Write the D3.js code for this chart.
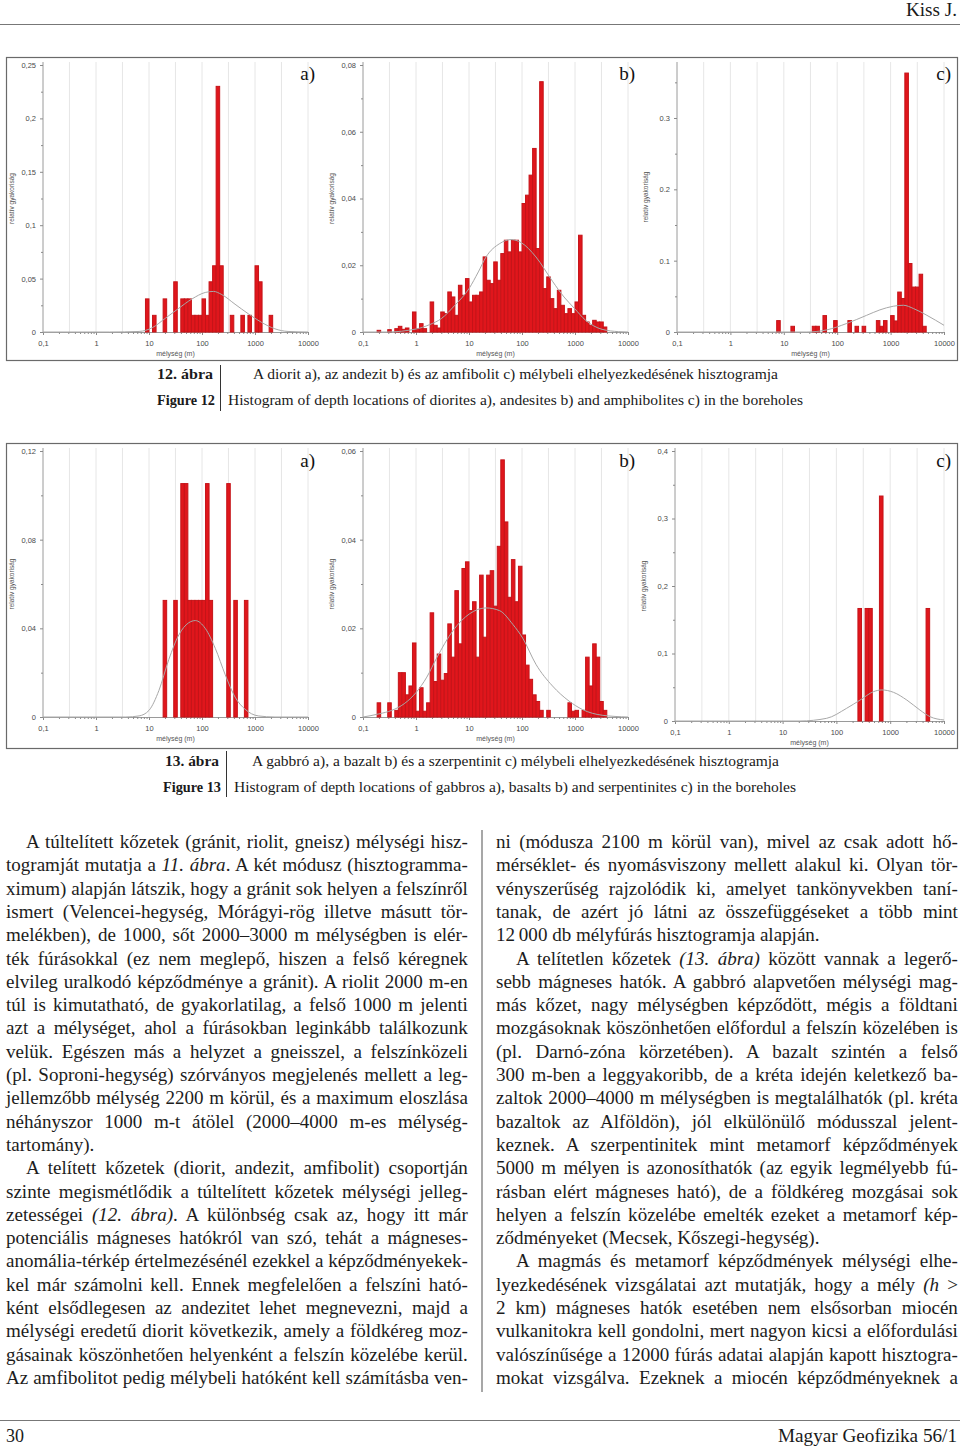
<!DOCTYPE html>
<html>
<head>
<meta charset="utf-8">
<script src="https://cdnjs.cloudflare.com/ajax/libs/d3/7.8.5/d3.min.js"></script>
<style>
  body { margin: 0; background: #fff; }
  svg { display: block; }
</style>
</head>
<body>
<svg id="page" width="960" height="1449"></svg>
<script>
// ---- tengelyek ----
const xTickValues = [0.1, 1, 10, 100, 1000, 10000];
const xTickLabels = ['0,1', '1', '10', '100', '1000', '10000'];
const gridDepths = [0.316, 1, 3.16, 10, 31.6, 100, 316, 1000, 3162, 10000];

// bin k = log10(mélység) from -1 + k/15 to -1 + (k+1)/15
const BINS_PER_DECADE = 15;

// ---- 12. ábra a) diorit ----
const dioriteYTicks = [0, 0.05, 0.1, 0.15, 0.2, 0.25];
const dioriteYLabels = ['0', '0,05', '0,1', '0,15', '0,2', '0,25'];
const dioriteBars = [
  [29, 0.031], [31, 0.0156], [34, 0.031], [37, 0.047], [39, 0.031], [40, 0.031], [41, 0.031],
  [42, 0.0156], [43, 0.0156], [44, 0.0156], [45, 0.031], [46, 0.0156], [47, 0.047], [48, 0.062],
  [49, 0.23], [50, 0.062], [53, 0.0156], [56, 0.0156], [58, 0.0156], [60, 0.062], [61, 0.047], [64, 0.0156]
];
const dioriteCurve = [
  [0.1, 0], [1.8, 0], [6.5, 0.0005], [11.5, 0.004], [20.5, 0.013], [36, 0.022], [65, 0.031],
  [115, 0.037], [165, 0.038], [237, 0.035], [420, 0.026], [750, 0.017], [1330, 0.009],
  [2370, 0.003], [4200, 0.0005], [10000, 0]
];

// ---- 12. ábra b) andezit ----
const andesiteYTicks = [0, 0.02, 0.04, 0.06, 0.08];
const andesiteYLabels = ['0', '0,02', '0,04', '0,06', '0,08'];
const andesiteBars = [
  [4, 0.0005], [7, 0.0007], [9, 0.001], [10, 0.0017], [11, 0.0008], [12, 0.0012], [14, 0.006],
  [15, 0.001], [16, 0.0025], [17, 0.001], [19, 0.009], [20, 0.002], [21, 0.0012], [22, 0.006],
  [23, 0.0055], [24, 0.012], [25, 0.0105], [26, 0.005], [27, 0.014], [28, 0.011], [29, 0.016],
  [30, 0.009], [31, 0.011], [32, 0.011], [33, 0.012], [34, 0.0225], [35, 0.0155], [36, 0.0145],
  [37, 0.021], [38, 0.0155], [39, 0.0235], [40, 0.0275], [41, 0.024], [42, 0.0275], [43, 0.0275],
  [44, 0.024], [45, 0.0385], [46, 0.041], [47, 0.047], [48, 0.055], [49, 0.025], [50, 0.075],
  [51, 0.013], [52, 0.0165], [53, 0.010], [54, 0.007], [55, 0.0125], [56, 0.008], [57, 0.0055],
  [58, 0.007], [59, 0.0055], [60, 0.009], [61, 0.029], [62, 0.005], [63, 0.003], [64, 0.002],
  [65, 0.0035], [66, 0.003], [67, 0.003], [68, 0.0015]
];
const andesiteCurve = [
  [0.1, 0], [0.28, 0], [1.0, 0.0009], [1.8, 0.0022], [3.0, 0.004], [5.4, 0.008], [10, 0.013],
  [15, 0.018], [21, 0.0225], [38, 0.0265], [62, 0.0277], [96, 0.0268], [183, 0.0225],
  [376, 0.0152], [620, 0.0105], [960, 0.0072], [1590, 0.0035], [3240, 0.0008], [6680, 0.0001], [10000, 0]
];

// ---- 12. ábra c) amfibolit ----
const amphiboliteYTicks = [0, 0.1, 0.2, 0.3];
const amphiboliteYLabels = ['0', '0.1', '0.2', '0.3'];
const amphiboliteBars = [
  [28, 0.016], [32, 0.008], [38, 0.008], [39, 0.008], [41, 0.023], [44, 0.016], [48, 0.016],
  [50, 0.008], [52, 0.008], [56, 0.016], [57, 0.008], [58, 0.016], [60, 0.023], [61, 0.0155],
  [62, 0.056], [63, 0.047], [64, 0.363], [65, 0.096], [66, 0.063], [67, 0.063], [68, 0.081], [69, 0.008]
];
const amphiboliteCurve = [
  [0.1, 0], [27, 0], [64, 0.003], [151, 0.012], [356, 0.0234], [630, 0.031], [1120, 0.0361],
  [1740, 0.0375], [2700, 0.0328], [4780, 0.0234], [10000, 0.0094]
];

// ---- 13. ábra a) gabbró ----
const gabbroYTicks = [0, 0.04, 0.08, 0.12];
const gabbroYLabels = ['0', '0,04', '0,08', '0,12'];
const gabbroBars = [
  [34, 0.0526], [37, 0.0526], [39, 0.1053], [40, 0.1053], [41, 0.0526], [42, 0.0526], [43, 0.0526],
  [44, 0.0526], [45, 0.0526], [46, 0.1053], [47, 0.0526], [52, 0.1053], [54, 0.0526], [57, 0.0526]
];
const gabbroCurve = [
  [0.1, 0], [3.65, 0], [6.5, 0.0005], [10, 0.003], [15.4, 0.012], [23.7, 0.026], [36.5, 0.037],
  [56, 0.0425], [75, 0.0435], [115, 0.040], [178, 0.031], [275, 0.019], [420, 0.009],
  [650, 0.0035], [1150, 0.0005], [2370, 0], [10000, 0]
];

// ---- 13. ábra b) bazalt ----
const basaltYTicks = [0, 0.02, 0.04, 0.06];
const basaltYLabels = ['0', '0,02', '0,04', '0,06'];
const basaltBars = [
  [4, 0.0032], [7, 0.0032], [9, 0.0015], [10, 0.010], [11, 0.010], [12, 0.005], [13, 0.007],
  [14, 0.0167], [15, 0.0013], [16, 0.0066], [17, 0.0013], [18, 0.0032], [19, 0.0235], [20, 0.008],
  [21, 0.0142], [22, 0.0083], [23, 0.0098], [24, 0.021], [25, 0.0135], [26, 0.0285], [27, 0.0165],
  [28, 0.0335], [29, 0.035], [30, 0.024], [31, 0.026], [32, 0.0135], [33, 0.032], [34, 0.018],
  [35, 0.032], [36, 0.033], [37, 0.025], [38, 0.0385], [39, 0.058], [40, 0.044], [41, 0.027],
  [42, 0.0355], [43, 0.026], [44, 0.034], [45, 0.0185], [46, 0.0117], [47, 0.0085], [48, 0.005],
  [49, 0.0035], [50, 0.0015], [52, 0.0015], [58, 0.0032], [59, 0.0013], [60, 0.0015], [62, 0.0015],
  [63, 0.0135], [64, 0.007], [65, 0.0165], [66, 0.0135], [67, 0.0035], [68, 0.0015]
];
const basaltCurve = [
  [0.1, 0], [0.2, 0.0007], [0.35, 0.0015], [0.6, 0.003], [1.0, 0.0055], [1.6, 0.009],
  [2.45, 0.0133], [5.0, 0.0195], [10.3, 0.0233], [21, 0.0246], [37.6, 0.024], [67, 0.0209],
  [103, 0.0178], [183, 0.0119], [376, 0.007], [770, 0.0036], [1375, 0.0017], [3240, 0.0004], [10000, 0]
];

// ---- 13. ábra c) szerpentinit ----
const serpentiniteYTicks = [0, 0.1, 0.2, 0.3, 0.4];
const serpentiniteYLabels = ['0', '0,1', '0,2', '0,3', '0,4'];
const serpentiniteBars = [[51, 0.1667], [53, 0.1667], [54, 0.1667], [57, 0.3333], [70, 0.1667]];
const serpentiniteCurve = [
  [0.1, 0], [21, 0], [66, 0.004], [155, 0.0188], [275, 0.031], [490, 0.0435], [700, 0.046],
  [1150, 0.0425], [2040, 0.031], [3560, 0.0163], [5500, 0.0064], [10000, 0.0015]
];

// ---- szöveg ----
const captions12 = [
  '12. ábra', 'A diorit a), az andezit b) és az amfibolit c) mélybeli elhelyezkedésének hisztogramja',
  'Figure 12', 'Histogram of depth locations of diorites a), andesites b) and amphibolites c) in the boreholes'
];
const captions13 = [
  '13. ábra', 'A gabbró a), a bazalt b) és a szerpentinit c) mélybeli elhelyezkedésének hisztogramja',
  'Figure 13', 'Histogram of depth locations of gabbros a), basalts b) and serpentinites c) in the boreholes'
];

// 'i' = bekezdés eleje (behúzás), 'e' = bekezdés vége (nincs sorkizárás), _..._ = dőlt
const col1Lines = [
  ['A túltelített kőzetek (gránit, riolit, gneisz) mélységi hisz-', 'i'],
  ['togramját mutatja a _11. ábra_. A két módusz (hisztogramma-', ''],
  ['ximum) alapján látszik, hogy a gránit sok helyen a felszínről', ''],
  ['ismert (Velencei-hegység, Mórágyi-rög illetve másutt tör-', ''],
  ['melékben), de 1000, sőt 2000–3000 m mélységben is elér-', ''],
  ['ték fúrásokkal (ez nem meglepő, hiszen a felső kéregnek', ''],
  ['elvileg uralkodó képződménye a gránit). A riolit 2000 m-en', ''],
  ['túl is kimutatható, de gyakorlatilag, a felső 1000 m jelenti', ''],
  ['azt a mélységet, ahol a fúrásokban leginkább találkozunk', ''],
  ['velük. Egészen más a helyzet a gneisszel, a felszínközeli', ''],
  ['(pl. Soproni-hegység) szórványos megjelenés mellett a leg-', ''],
  ['jellemzőbb mélység 2200 m körül, és a maximum eloszlása', ''],
  ['néhányszor 1000 m-t átölel (2000–4000 m-es mélység-', ''],
  ['tartomány).', 'e'],
  ['A telített kőzetek (diorit, andezit, amfibolit) csoportján', 'i'],
  ['szinte megismétlődik a túltelített kőzetek mélységi jelleg-', ''],
  ['zetességei _(12. ábra)_. A különbség csak az, hogy itt már', ''],
  ['potenciális mágneses hatókról van szó, tehát a mágneses-', ''],
  ['anomália-térkép értelmezésénél ezekkel a képződményekek-', ''],
  ['kel már számolni kell. Ennek megfelelően a felszíni ható-', ''],
  ['ként elsődlegesen az andezitet lehet megnevezni, majd a', ''],
  ['mélységi eredetű diorit következik, amely a földkéreg moz-', ''],
  ['gásainak köszönhetően helyenként a felszín közelébe kerül.', ''],
  ['Az amfibolitot pedig mélybeli hatóként kell számításba ven-', '']
];
const col2Lines = [
  ['ni (módusza 2100 m körül van), mivel az csak adott hő-', ''],
  ['mérséklet- és nyomásviszony mellett alakul ki. Olyan tör-', ''],
  ['vényszerűség rajzolódik ki, amelyet tankönyvekben taní-', ''],
  ['tanak, de azért jó látni az összefüggéseket a több mint', ''],
  ['12\u2009000 db mélyfúrás hisztogramja alapján.', 'e'],
  ['A telítetlen kőzetek _(13. ábra)_ között vannak a legerő-', 'i'],
  ['sebb mágneses hatók. A gabbró alapvetően mélységi mag-', ''],
  ['más kőzet, nagy mélységben képződött, mégis a földtani', ''],
  ['mozgásoknak köszönhetően előfordul a felszín közelében is', ''],
  ['(pl. Darnó-zóna körzetében). A bazalt szintén a felső', ''],
  ['300 m-ben a leggyakoribb, de a kréta idején keletkező ba-', ''],
  ['zaltok 2000–4000 m mélységben is megtalálhatók (pl. kréta', ''],
  ['bazaltok az Alföldön), jól elkülönülő módusszal jelent-', ''],
  ['keznek. A szerpentinitek mint metamorf képződmények', ''],
  ['5000 m mélyen is azonosíthatók (az egyik legmélyebb fú-', ''],
  ['rásban elért mágneses ható), de a földkéreg mozgásai sok', ''],
  ['helyen a felszín közelébe emelték ezeket a metamorf kép-', ''],
  ['ződményeket (Mecsek, Kőszegi-hegység).', 'e'],
  ['A magmás és metamorf képződmények mélységi elhe-', 'i'],
  ['lyezkedésének vizsgálatai azt mutatják, hogy a mély _(h_ >', ''],
  ['2 km) mágneses hatók esetében nem elsősorban miocén', ''],
  ['vulkanitokra kell gondolni, mert nagyon kicsi a előfordulási', ''],
  ['valószínűsége a 12000 fúrás adatai alapján kapott hisztogra-', ''],
  ['mokat vizsgálva. Ezeknek a miocén képződményeknek a', '']
];

const SERIF = '"Liberation Serif", "Times New Roman", serif';
const SANS = '"Liberation Sans", Arial, sans-serif';
const svg = d3.select('#page');

// ---- hisztogram panelek ----
const binEdge = k => Math.pow(10, -1 + k / BINS_PER_DECADE);

const panels = [
  { x0: 43, x1: 308, y0: 65, y1: 332, top: 62, yMax: 0.25, ticks: dioriteYTicks, labels: dioriteYLabels, minor: 0.025, bars: dioriteBars, curve: dioriteCurve, tag: 'a)', frame: 57 },
  { x0: 363, x1: 628, y0: 65, y1: 332, top: 62, yMax: 0.08, ticks: andesiteYTicks, labels: andesiteYLabels, minor: 0.01, bars: andesiteBars, curve: andesiteCurve, tag: 'b)', frame: 57 },
  { x0: 677, x1: 944, y0: 62, y1: 332, top: 62, yMax: 0.3785, ticks: amphiboliteYTicks, labels: amphiboliteYLabels, minor: 0.05, bars: amphiboliteBars, curve: amphiboliteCurve, tag: 'c)', frame: 57 },
  { x0: 43, x1: 308, y0: 451, y1: 717, top: 448, yMax: 0.12, ticks: gabbroYTicks, labels: gabbroYLabels, minor: 0.02, bars: gabbroBars, curve: gabbroCurve, tag: 'a)', frame: 444 },
  { x0: 363, x1: 628, y0: 451, y1: 717, top: 448, yMax: 0.06, ticks: basaltYTicks, labels: basaltYLabels, minor: 0.01, bars: basaltBars, curve: basaltCurve, tag: 'b)', frame: 444 },
  { x0: 675, x1: 944, y0: 451, y1: 721, top: 448, yMax: 0.4, ticks: serpentiniteYTicks, labels: serpentiniteYLabels, minor: 0.05, bars: serpentiniteBars, curve: serpentiniteCurve, tag: 'c)', frame: 444 }
];

// keretek
svg.append('rect').attr('x', 6.5).attr('y', 57.5).attr('width', 951).attr('height', 303)
  .attr('fill', 'none').attr('stroke', '#6a6a6a').attr('stroke-width', 1.2);
svg.append('rect').attr('x', 6.5).attr('y', 443.5).attr('width', 951).attr('height', 305)
  .attr('fill', 'none').attr('stroke', '#6a6a6a').attr('stroke-width', 1.2);

for (const p of panels) {
  const g = svg.append('g').attr('font-family', SANS);
  const x = d3.scaleLog().domain([0.1, 10000]).range([p.x0, p.x1]);
  const y = d3.scaleLinear().domain([0, p.yMax]).range([p.y1, p.y0]);

  g.append('g').selectAll('line').data(gridDepths).join('line')
    .attr('x1', d => x(d)).attr('x2', d => x(d))
    .attr('y1', p.top).attr('y2', p.y1)
    .attr('stroke', '#e0e0e0').attr('stroke-width', 0.8);

  // y tengely
  const yAxis = g.append('g').attr('transform', `translate(${p.x0},0)`)
    .call(d3.axisLeft(y).tickValues(p.ticks).tickSize(3).tickPadding(4)
      .tickFormat((d, i) => p.labels[i]));
  g.append('g').attr('transform', `translate(${p.x0},0)`)
    .call(d3.axisLeft(y).tickValues(d3.range(p.minor, p.yMax, p.minor * 2)).tickSize(2).tickFormat(''))
    .call(a => a.select('.domain').remove());
  yAxis.select('.domain').attr('d', `M0,${p.top}V${p.y1}`);

  // x tengely
  g.append('g').attr('transform', `translate(0,${p.y1})`)
    .call(d3.axisBottom(x).tickValues(xTickValues).tickSize(3).tickPadding(6)
      .tickFormat((d, i) => xTickLabels[i]));
  g.append('g').attr('transform', `translate(0,${p.y1})`)
    .call(d3.axisBottom(x).tickValues(x.ticks().filter(d => !xTickValues.includes(d))).tickSize(2).tickFormat(''))
    .call(a => a.select('.domain').remove());

  g.selectAll('.domain').attr('stroke', '#9a9a9a');
  g.selectAll('.tick line').attr('stroke', '#8a8a8a');
  g.selectAll('.tick text').attr('fill', '#4a4a4a').attr('font-size', 7.5).attr('font-family', SANS);

  // oszlopok
  g.append('g').selectAll('rect').data(p.bars).join('rect')
    .attr('x', d => x(binEdge(d[0])))
    .attr('width', d => x(binEdge(d[0] + 1)) - x(binEdge(d[0])))
    .attr('y', d => y(d[1]))
    .attr('height', d => y(0) - y(d[1]))
    .attr('fill', '#e0161c')
    .attr('stroke', '#c51419')
    .attr('stroke-width', 1);

  // illesztett görbe
  g.append('path').datum(p.curve)
    .attr('fill', 'none').attr('stroke', '#a8a8a8').attr('stroke-width', 1)
    .attr('d', d3.line().x(d => x(d[0])).y(d => y(d[1])).curve(d3.curveMonotoneX));

  g.append('text')
    .attr('transform', `translate(${p.x0 - 29},${(p.y0 + p.y1) / 2}) rotate(-90)`)
    .attr('text-anchor', 'middle').attr('font-size', 6.5).attr('fill', '#555')
    .text('relatív gyakoriság');
  g.append('text')
    .attr('x', (p.x0 + p.x1) / 2).attr('y', p.y1 + 24)
    .attr('text-anchor', 'middle').attr('font-size', 7).attr('fill', '#555')
    .text('mélység (m)');
  g.append('text')
    .attr('x', p.x1 + 7).attr('y', p.frame + 23)
    .attr('text-anchor', 'end').attr('font-family', SERIF).attr('font-size', 19).attr('fill', '#111')
    .text(p.tag);
}

// ---- ábraaláírások ----
function fitted(str, x, y, w, size, bold) {
  return svg.append('text').attr('x', x).attr('y', y)
    .attr('font-family', SERIF).attr('font-size', size).attr('fill', '#1a1a1a')
    .attr('font-weight', bold ? 'bold' : null)
    .attr('textLength', w).attr('lengthAdjust', 'spacingAndGlyphs')
    .text(str);
}
function caption(texts, pos) {
  fitted(texts[0], pos[0][0], pos[0][1], pos[0][2], 15, true);
  fitted(texts[1], pos[1][0], pos[1][1], pos[1][2], 15, false);
  fitted(texts[2], pos[2][0], pos[2][1], pos[2][2], 15, true);
  fitted(texts[3], pos[3][0], pos[3][1], pos[3][2], 15, false);
  svg.append('line').attr('x1', pos[4][0]).attr('x2', pos[4][0]).attr('y1', pos[4][1]).attr('y2', pos[4][2])
    .attr('stroke', '#333').attr('stroke-width', 1);
}
caption(captions12, [[157, 379, 56], [253, 379, 525], [157, 405, 58], [228, 405, 575], [220.5, 365, 411]]);
caption(captions13, [[165, 766, 54], [252, 766, 527], [163, 792, 58], [234, 792, 562], [226.5, 751, 797]]);

// ---- élőfej, élőláb ----
fitted('Kiss J.', 906, 16, 51, 18, false);
svg.append('line').attr('x1', 0).attr('x2', 960).attr('y1', 24.5).attr('y2', 24.5).attr('stroke', '#777').attr('stroke-width', 1.2);
svg.append('line').attr('x1', 0).attr('x2', 960).attr('y1', 1420.5).attr('y2', 1420.5).attr('stroke', '#777').attr('stroke-width', 1.2);
fitted('30', 6, 1442, 18, 19, false);
fitted('Magyar Geofizika 56/1', 778, 1442, 179, 19, false);
svg.append('line').attr('x1', 482).attr('x2', 482).attr('y1', 830).attr('y2', 1392)
  .attr('stroke', '#8a8a8a').attr('stroke-width', 1.5);

// ---- kéthasábos szöveg, sorkizárással ----
const body = svg.append('g').attr('font-family', SERIF).attr('font-size', 19.5).attr('fill', '#1c1c1c');
const rows = [];
[[col1Lines, 6], [col2Lines, 496]].forEach(([lines, cx]) => {
  lines.forEach(([str, flag], n) => {
    const indent = flag.includes('i') ? 20 : 0;
    const t = body.append('text');
    str.split('_').forEach((seg, i) => {
      if (seg) t.append('tspan').attr('font-style', i % 2 ? 'italic' : null).text(seg);
    });
    rows.push({
      t, x: cx + indent, y: 848 + n * 23.3, w: 462 - indent,
      justify: !flag.includes('e'),
      spaces: str.split(' ').length - 1,
      nat: t.node().getComputedTextLength()
    });
  });
});
const sx = Math.max(0.8, Math.min(1, d3.min(rows.filter(d => d.justify), d => d.w / d.nat)));
rows.forEach(d => {
  d.t.attr('transform', `translate(${d.x},${d.y}) scale(${sx},1)`);
  if (d.justify && d.spaces) d.t.style('word-spacing', `${(d.w / sx - d.nat) / d.spaces}px`);
});
</script>
</body>
</html>
